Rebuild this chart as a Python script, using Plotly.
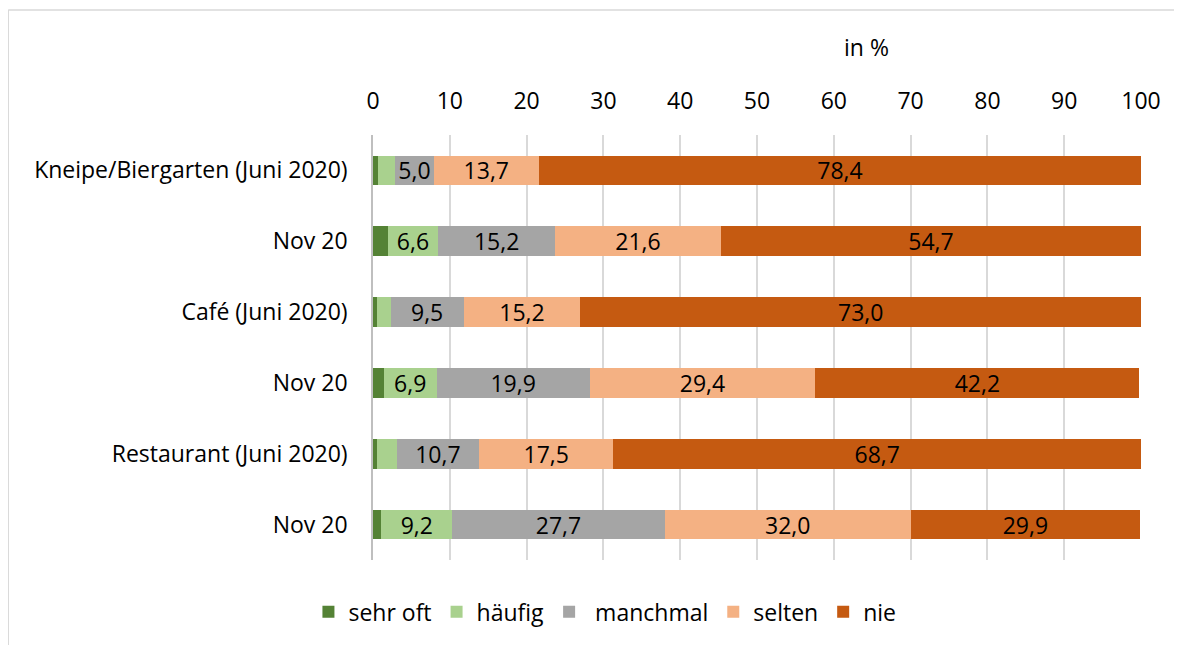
import plotly.graph_objects as go

# Kategorien (von oben nach unten)
categories = [
    "Kneipe/Biergarten (Juni 2020)",
    "Nov 20",
    "Café (Juni 2020)",
    "Nov 20",
    "Restaurant (Juni 2020)",
    "Nov 20",
]

sehr_oft = [0.7, 1.9, 0.5, 1.4, 0.5, 1.1]
haeufig = [2.2, 6.6, 1.8, 6.9, 2.6, 9.2]
manchmal = [5.0, 15.2, 9.5, 19.9, 10.7, 27.7]
selten = [13.7, 21.6, 15.2, 29.4, 17.5, 32.0]
nie = [78.4, 54.7, 73.0, 42.2, 68.7, 29.9]

x_ticks = [0, 10, 20, 30, 40, 50, 60, 70, 80, 90, 100]

series = [
    ("sehr oft", sehr_oft, "#548235"),
    ("häufig", haeufig, "#A9D18E"),
    (" manchmal", manchmal, "#A5A5A5"),
    ("selten", selten, "#F4B183"),
    ("nie", nie, "#C55A11"),
]

FONT = "'Open Sans', Lato, sans-serif"
FS = 23
ypos = list(range(len(categories)))

fig = go.Figure()
for name, vals, color in series:
    # Nur Werte ab ca. 4 % werden beschriftet
    labels = [f"{v:.1f}".replace(".", ",") if v >= 4 else "" for v in vals]
    fig.add_trace(
        go.Bar(
            y=ypos,
            x=vals,
            name=name,
            orientation="h",
            marker=dict(color=color, line=dict(width=0)),
            text=labels,
            textposition="inside",
            insidetextanchor="middle",
            textangle=0,
            textfont=dict(color="black", size=FS, family=FONT),
            constraintext="none",
        )
    )

fig.update_layout(
    barmode="stack",
    bargap=0.58,
    width=1174,
    height=637,
    paper_bgcolor="white",
    plot_bgcolor="white",
    font=dict(family=FONT, size=FS, color="black"),
    margin=dict(l=365, r=41, t=127, b=85),
    uniformtext=dict(minsize=8, mode="show"),
    legend=dict(
        orientation="h",
        x=0.302,
        xanchor="center",
        y=-0.122,
        yanchor="middle",
        font=dict(size=FS, family=FONT),
        traceorder="normal",
        itemwidth=30,
    ),
    annotations=[
        dict(
            text="in %",
            x=0.642,
            y=1.207,
            xref="paper",
            yref="paper",
            xanchor="center",
            yanchor="middle",
            showarrow=False,
            font=dict(size=FS, family=FONT),
        )
    ],
    shapes=[
        dict(type="line", xref="paper", yref="paper", x0=-0.475, x1=1.07,
             y0=1.294, y1=1.294, line=dict(color="#D9D9D9", width=1.5)),
        dict(type="line", xref="paper", yref="paper", x0=-0.475, x1=-0.475,
             y0=1.294, y1=-0.25, line=dict(color="#D9D9D9", width=1.5)),
    ],
)

fig.update_xaxes(
    side="top",
    range=[0, 100],
    tickvals=x_ticks,
    showgrid=True,
    gridcolor="#D9D9D9",
    gridwidth=1.5,
    zeroline=False,
    showline=False,
    ticks="",
    ticklabelstandoff=20,
    tickfont=dict(size=FS),
)
fig.update_yaxes(
    tickvals=ypos,
    ticktext=categories,
    range=[len(categories) - 0.5, -0.5],
    showgrid=False,
    zeroline=False,
    showline=True,
    linecolor="#BFBFBF",
    linewidth=1.5,
    ticks="",
    ticklabelstandoff=19,
    tickfont=dict(size=FS),
)

fig.write_html("out.html")
